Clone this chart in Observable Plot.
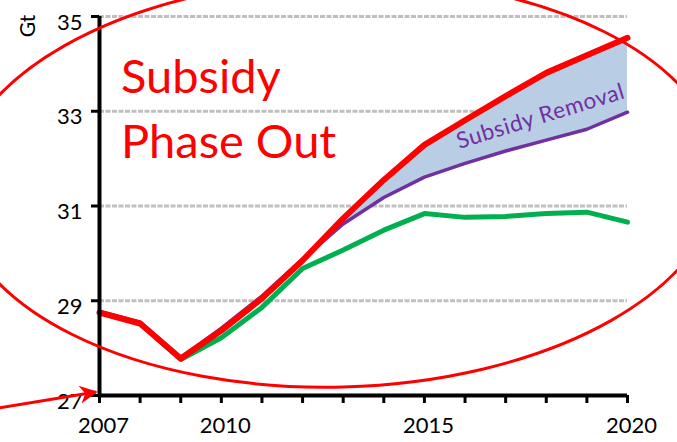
<!DOCTYPE html>
<html>
<head>
<meta charset="utf-8">
<script src="https://cdn.jsdelivr.net/npm/d3@7"></script>
<script src="https://cdn.jsdelivr.net/npm/@observablehq/plot@0.6"></script>
<style>
  html, body { margin: 0; padding: 0; background: #fff; overflow: hidden; }
  #chart { width: 677px; height: 442px; }
</style>
</head>
<body>
<div id="chart"></div>
<script>
const years = [2007, 2008, 2009, 2010, 2011, 2012, 2013, 2014, 2015, 2016, 2017, 2018, 2019, 2020];
const baseline = [28.75, 28.52, 27.78, 28.37, 29.05, 29.85, 30.74, 31.55, 32.29, 32.81, 33.32, 33.81, 34.18, 34.55];
const subsidyRemoval = [28.78, 28.55, 27.80, 28.42, 29.10, 29.88, 30.62, 31.18, 31.61, 31.90, 32.16, 32.39, 32.62, 32.98];
const other = [28.75, 28.52, 27.76, 28.22, 28.86, 29.68, 30.07, 30.49, 30.84, 30.76, 30.78, 30.84, 30.87, 30.66];
const yTicks = [27, 29, 31, 33, 35];
const gridTicks = [29, 31, 33, 35];
const xLabels = [2007, 2010, 2015, 2020];
const areaLabel = "Subsidy Removal";
const titleLines = ["Subsidy", "Phase Out"];
const unitLabel = "Gt";

const rows = years.map((y, i) => ({year: y, base: baseline[i], sub: subsidyRemoval[i], other: other[i]}));
const FONT = "Lato, 'DejaVu Sans', sans-serif";

const plot = Plot.plot({
  width: 677,
  height: 442,
  marginLeft: 99,
  marginRight: 50,
  marginTop: 16,
  marginBottom: 47,
  style: {fontFamily: FONT, background: "#fff", overflow: "visible"},
  x: {domain: [2007, 2020], axis: null},
  y: {domain: [27, 35], axis: null},
  marks: [
    Plot.ruleY(gridTicks, {x1: 2007, x2: 2020, y: d => d, stroke: "#c0c0c0", strokeWidth: 3, strokeDasharray: "5,1.5"}),
    Plot.areaY(rows, {x: "year", y1: "sub", y2: "base", fill: "#b9cde5"}),
    Plot.line(rows, {x: "year", y: "other", stroke: "#00b050", strokeWidth: 5}),
    Plot.line(rows, {x: "year", y: "sub", stroke: "#7030a0", strokeWidth: 3.5}),
    Plot.line(rows, {x: "year", y: "base", stroke: "#ff0000", strokeWidth: 6}),
    // axes
    Plot.axisX({ticks: years, tickSize: 8, tickFormat: () => "", stroke: "#000", strokeWidth: 3, label: null}),
    Plot.axisY({ticks: yTicks, tickSize: 8, tickFormat: () => "", stroke: "#000", strokeWidth: 3, label: null}),
    Plot.ruleX([2007], {y1: 27, y2: 35, stroke: "#000", strokeWidth: 4}),
    Plot.ruleY([27], {x1: 2007, x2: 2020, stroke: "#000", strokeWidth: 4}),
    Plot.text(xLabels, {x: d => d, y: 27, text: d => String(d), dx: 4, dy: 30, fontSize: 22, fill: "#000", textAnchor: "middle"}),
    Plot.text(yTicks, {x: 2007, y: d => d, text: d => String(d), dx: -17, dy: 6, fontSize: 22, fill: "#000", textAnchor: "end"}),
    Plot.text([areaLabel], {x: 2017.86, y: 32.89, text: d => d, rotate: -17, fill: "#7030a0", fontSize: 22.5, textAnchor: "middle", className: "area-label"}),
  ]
});

const svg = d3.select(plot);
svg.selectAll(".area-label text").attr("letter-spacing", 0.6);

// Gt label
svg.append("text").attr("transform", "translate(30,26) rotate(-90)")
  .attr("text-anchor", "middle").attr("dominant-baseline", "middle")
  .attr("font-size", 21).attr("fill", "#000").text(unitLabel);

// Subsidy Phase Out annotation
const ann = svg.append("g").attr("fill", "#ff0000").attr("font-size", 47).attr("text-anchor", "start");
ann.append("text").attr("x", 121).attr("y", 93).text(titleLines[0]);
ann.append("text").attr("x", 121).attr("y", 158).text(titleLines[1]);

// red ellipse annotation
svg.append("ellipse").attr("cx", 338).attr("cy", 183).attr("rx", 382).attr("ry", 204)
  .attr("transform", "rotate(-1.5 338 183)")
  .attr("fill", "none").attr("stroke", "#ff0000").attr("stroke-width", 3);

// arrow
const defs = svg.append("defs");
defs.append("marker").attr("id", "arr").attr("viewBox", "0 0 10 10").attr("refX", 9).attr("refY", 5)
  .attr("markerWidth", 7).attr("markerHeight", 6).attr("markerUnits", "strokeWidth").attr("orient", "auto")
  .append("path").attr("d", "M0,0 L10,5 L0,10 L3,5 Z").attr("fill", "#ff0000");
svg.append("line").attr("x1", -2).attr("y1", 408).attr("x2", 96).attr("y2", 392)
  .attr("stroke", "#ff0000").attr("stroke-width", 3).attr("marker-end", "url(#arr)");

document.getElementById("chart").appendChild(plot);
</script>
</body>
</html>
